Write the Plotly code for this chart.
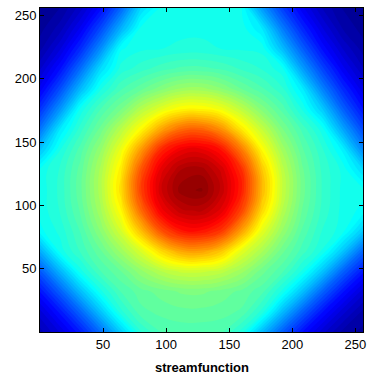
import plotly.graph_objects as go

# grid coordinates (data units)
x_coords = [0, 16, 32, 48, 64, 80, 96, 112, 128, 144, 160, 176, 192, 208, 224, 240, 256]
y_coords = [0, 16, 32, 48, 64, 80, 96, 112, 128, 144, 160, 176, 192, 208, 224, 240, 256]

# streamfunction values (rows = y from bottom to top)
psi = [
    [0.04, 0.08, 0.137, 0.219, 0.316, 0.405, 0.438, 0.443, 0.443, 0.44, 0.398, 0.298, 0.204, 0.124, 0.068, 0.026, 0.01],
    [0.072, 0.131, 0.212, 0.307, 0.40, 0.448, 0.458, 0.464, 0.464, 0.46, 0.45, 0.40, 0.30, 0.207, 0.126, 0.069, 0.027],
    [0.126, 0.206, 0.30, 0.385, 0.438, 0.462, 0.476, 0.487, 0.488, 0.478, 0.464, 0.443, 0.386, 0.304, 0.209, 0.128, 0.07],
    [0.198, 0.293, 0.384, 0.437, 0.468, 0.511, 0.546, 0.567, 0.567, 0.554, 0.521, 0.475, 0.441, 0.387, 0.307, 0.21, 0.131],
    [0.285, 0.382, 0.424, 0.466, 0.521, 0.582, 0.657, 0.71, 0.716, 0.675, 0.591, 0.534, 0.474, 0.43, 0.388, 0.31, 0.213],
    [0.37, 0.396, 0.439, 0.502, 0.576, 0.684, 0.794, 0.855, 0.86, 0.82, 0.713, 0.594, 0.515, 0.45, 0.405, 0.382, 0.313],
    [0.38, 0.408, 0.456, 0.528, 0.622, 0.768, 0.884, 0.934, 0.94, 0.90, 0.805, 0.657, 0.546, 0.467, 0.416, 0.385, 0.37],
    [0.38, 0.411, 0.464, 0.54, 0.65, 0.81, 0.92, 0.978, 0.987, 0.932, 0.843, 0.69, 0.562, 0.476, 0.419, 0.386, 0.38],
    [0.38, 0.409, 0.46, 0.536, 0.635, 0.79, 0.90, 0.954, 0.962, 0.917, 0.828, 0.675, 0.555, 0.472, 0.417, 0.386, 0.33],
    [0.306, 0.39, 0.445, 0.512, 0.60, 0.72, 0.837, 0.89, 0.896, 0.857, 0.751, 0.622, 0.527, 0.456, 0.408, 0.355, 0.247],
    [0.227, 0.345, 0.415, 0.475, 0.548, 0.623, 0.711, 0.77, 0.777, 0.73, 0.64, 0.562, 0.487, 0.433, 0.382, 0.278, 0.183],
    [0.159, 0.26, 0.38, 0.438, 0.482, 0.544, 0.591, 0.625, 0.627, 0.604, 0.554, 0.495, 0.447, 0.389, 0.313, 0.208, 0.126],
    [0.10, 0.187, 0.295, 0.388, 0.435, 0.464, 0.495, 0.52, 0.522, 0.502, 0.469, 0.441, 0.41, 0.348, 0.24, 0.151, 0.083],
    [0.06, 0.124, 0.219, 0.33, 0.397, 0.415, 0.431, 0.442, 0.443, 0.435, 0.419, 0.405, 0.381, 0.27, 0.177, 0.10, 0.048],
    [0.026, 0.076, 0.15, 0.25, 0.372, 0.387, 0.39, 0.395, 0.396, 0.39, 0.388, 0.385, 0.30, 0.204, 0.12, 0.062, 0.023],
    [0.009, 0.039, 0.097, 0.18, 0.285, 0.38, 0.384, 0.385, 0.385, 0.384, 0.383, 0.343, 0.235, 0.146, 0.079, 0.03, 0.008],
    [0.0, 0.016, 0.055, 0.117, 0.21, 0.328, 0.38, 0.38, 0.38, 0.38, 0.375, 0.264, 0.172, 0.098, 0.045, 0.014, 0.0],
]

tick_vals = [50, 100, 150, 200, 250]
tick_text = ["50", "100", "150", "200", "250"]
x_label = "streamfunction"

jet = [
    [0.0, "rgb(0,0,143)"],
    [0.111, "rgb(0,0,255)"],
    [0.365, "rgb(0,255,255)"],
    [0.619, "rgb(255,255,0)"],
    [0.873, "rgb(255,0,0)"],
    [1.0, "rgb(128,0,0)"],
]

font_family = "Liberation Sans, Arial, Helvetica, sans-serif"

fig = go.Figure(
    go.Contour(
        x=x_coords,
        y=y_coords,
        z=psi,
        colorscale=jet,
        zmin=0,
        zmax=1,
        showscale=False,
        contours=dict(coloring="fill", start=0, end=1, size=1 / 64, showlines=False),
        line=dict(width=0, smoothing=1.3),
        hoverinfo="skip",
    )
)

axis_common = dict(
    showline=True,
    linecolor="black",
    linewidth=1,
    mirror="ticks",
    ticks="inside",
    ticklen=4,
    tickcolor="black",
    showgrid=False,
    zeroline=False,
    automargin=False,
    tickfont=dict(family=font_family, size=13, color="black"),
    tickvals=tick_vals,
    ticktext=tick_text,
)

fig.update_layout(
    width=371,
    height=374,
    margin=dict(l=40, r=8, t=8, b=42),
    paper_bgcolor="white",
    plot_bgcolor="white",
    xaxis=dict(range=[0, 256], **axis_common),
    yaxis=dict(range=[0, 256], **axis_common),
    annotations=[
        dict(
            text=x_label,
            xref="paper",
            yref="paper",
            x=0.5,
            y=0,
            yshift=-35,
            xanchor="center",
            yanchor="middle",
            showarrow=False,
            font=dict(family=font_family, size=13, color="black", weight="bold"),
        )
    ],
)

fig.write_html("out.html", config={"displayModeBar": False, "staticPlot": True})

# remove the browser's default page margin so the figure sits at the window origin
with open("out.html", "r", encoding="utf-8") as fh:
    page = fh.read()
page = page.replace("<body>", '<body style="margin:0;padding:0;overflow:hidden">', 1)
with open("out.html", "w", encoding="utf-8") as fh:
    fh.write(page)
